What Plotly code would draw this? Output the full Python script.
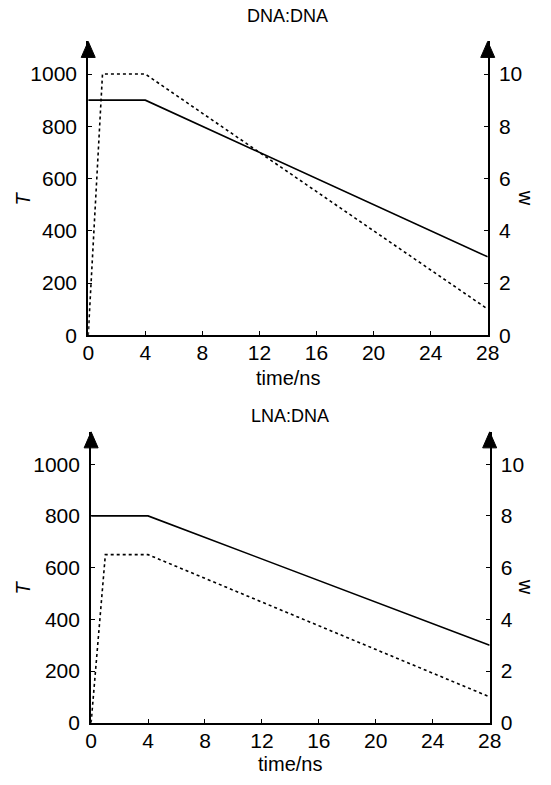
import plotly.graph_objects as go

# ---- data ----
time_T = [0, 4, 28]
T_dna = [900, 900, 300]
T_lna = [800, 800, 300]
time_w = [0, 1, 4, 28]
w_dna = [0, 10, 10, 1]
w_lna = [0, 6.5, 6.5, 1]
x_ticks = [0, 4, 8, 12, 16, 20, 24, 28]
T_ticks = [0, 200, 400, 600, 800, 1000]
w_ticks = [0, 2, 4, 6, 8, 10]
titles = ["DNA:DNA", "LNA:DNA"]

W, H = 551, 785
FONT = "Liberation Sans, Arial, Helvetica, sans-serif"

fig = go.Figure()

# pixel layout (top-left origin)
panels = [
    dict(xl=85, xr=498, yt=42, yb=340, ty=16, xt=383),
    dict(xl=88, xr=500, yt=438, yb=733, ty=422, xt=775),
]
Tmax, wmax = 1125, 11.25

series = [(T_dna, w_dna), (T_lna, w_lna)]
for i, (p, (Ts, ws)) in enumerate(zip(panels, series)):
    n = i + 1
    xa = "x" if n == 1 else f"x{n}"
    ya = "y" if i == 0 else f"y{2*i+1}"
    ya2 = f"y{2*i+2}"
    fig.add_trace(go.Scatter(x=time_T, y=Ts, mode="lines",
                             line=dict(color="black", width=1.6),
                             xaxis=xa, yaxis=ya, showlegend=False))
    fig.add_trace(go.Scatter(x=time_w, y=ws, mode="lines",
                             line=dict(color="black", width=1.6, dash="3px,3px"),
                             xaxis=xa, yaxis=ya2, showlegend=False))
    xdom = [p["xl"] / W, p["xr"] / W]
    ydom = [1 - p["yb"] / H, 1 - p["yt"] / H]
    axx = "xaxis" if n == 1 else f"xaxis{n}"
    axy = "yaxis" if i == 0 else f"yaxis{2*i+1}"
    axy2 = f"yaxis{2*i+2}"
    common = dict(showgrid=False, zeroline=False, showline=True, linecolor="black",
                  linewidth=2, ticks="inside", ticklen=4, tickwidth=1,
                  tickcolor="black", tickfont=dict(family=FONT, size=21, color="black"))
    fig.layout[axx] = dict(domain=xdom, anchor=ya, range=[0, 28], tickvals=x_ticks,
                           ticktext=[str(v) for v in x_ticks], ticklabelstandoff=-2, **common)
    fig.layout[axy] = dict(domain=ydom, anchor=xa, range=[0, Tmax], tickvals=T_ticks,
                           ticktext=[str(v) for v in T_ticks], ticklabelstandoff=5, **common)
    fig.layout[axy2] = dict(domain=ydom, anchor=xa, overlaying=ya, side="right",
                            range=[0, wmax], tickvals=w_ticks,
                            ticktext=[str(v) for v in w_ticks], ticklabelstandoff=5, **common)
    # arrowheads at the top of the vertical axes (paper refs so they are not clipped)
    for xp in (p["xl"], p["xr"]):
        fig.add_shape(type="path", xref="paper", yref="paper", xsizemode="pixel",
                      ysizemode="pixel", xanchor=xp / W, yanchor=1 - p["yt"] / H,
                      path="M -7,-16 L 7,-16 L 0,0 Z",
                      fillcolor="black", line=dict(color="black", width=1))
    cx = (p["xl"] + p["xr"]) / 2
    ymid = (p["yt"] + p["yb"]) / 2 + 10
    ann = [
        dict(text=titles[i], x=cx / W, y=1 - p["ty"] / H, size=18, angle=0),
        dict(text="time/ns", x=cx / W, y=1 - p["xt"] / H, size=20, angle=0),
        dict(text="<i>T</i>", x=18 / W, y=1 - ymid / H, size=20, angle=-90),
        dict(text="w", x=537 / W, y=1 - ymid / H, size=20, angle=90),
    ]
    for a in ann:
        fig.add_annotation(text=a["text"], x=a["x"], y=a["y"], xref="paper", yref="paper",
                           showarrow=False, textangle=a["angle"], xanchor="center",
                           yanchor="middle", font=dict(family=FONT, size=a["size"], color="black"))

fig.update_layout(width=W, height=H, margin=dict(l=0, r=0, t=0, b=0),
                  paper_bgcolor="white", plot_bgcolor="white", showlegend=False)
fig.write_html("out.html")
